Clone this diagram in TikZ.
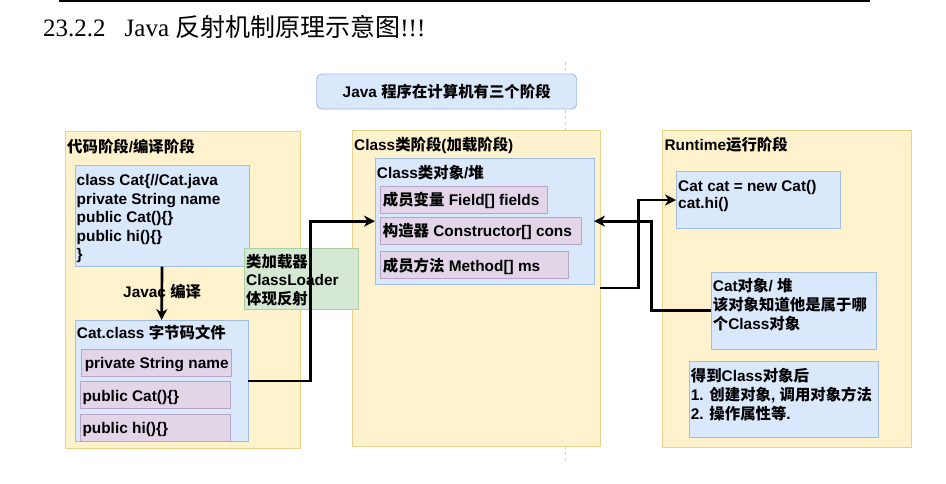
\documentclass[tikz,border=0pt]{standalone}
\usepackage{fontspec}
\setmainfont{Liberation Sans}
\newfontfamily\zhfont{Noto Sans CJK SC}
\newfontfamily\seriffont{Liberation Serif}
\newcommand\zh[1]{{\zhfont #1}}
\usetikzlibrary{arrows.meta}
\definecolor{panelfill}{HTML}{FFF2CC}
\definecolor{paneldraw}{HTML}{E8D28E}
\definecolor{bluefill}{HTML}{DAE8FC}
\definecolor{bluedraw}{HTML}{A2BCE2}
\definecolor{purpfill}{HTML}{E1D5E7}
\definecolor{purpdraw}{HTML}{B9A3C6}
\definecolor{grnfill}{HTML}{D5E8D4}
\definecolor{grndraw}{HTML}{A9D0A3}
\newcommand\bx[6]{\node[#1, anchor=north west, inner sep=0pt, outer sep=0pt, minimum width={#5-#3}, minimum height={#6-#4}] (#2) at (#3,#4) {};}
\begin{document}
\begin{tikzpicture}[x=1pt,y=-1pt,
  panel/.style={draw=paneldraw, fill=panelfill, line width=0.9pt},
  bluebox/.style={draw=bluedraw, fill=bluefill, line width=0.9pt},
  purpbox/.style={draw=purpdraw, fill=purpfill, line width=0.9pt},
  grnbox/.style={draw=grndraw, fill=grnfill, line width=0.9pt},
  topbox/.style={draw=bluedraw, fill=bluefill, line width=0.9pt, rounded corners=5pt},
  txt/.style={anchor=base west, inner sep=0pt, font=\bfseries\fontsize{15.4}{18}\selectfont},
  ctxt/.style={anchor=base, inner sep=0pt, font=\bfseries\fontsize{15.4}{18}\selectfont},
  arr/.style={line width=2.7pt, line join=miter, -{Stealth[length=11pt,width=11pt,inset=3.5pt]}}]
\useasboundingbox (0,0) rectangle (946,483);
\fill[white] (0,0) rectangle (946,483);
% header
\draw[line width=1.5pt] (59,1) -- (870,1);
\node[anchor=base west, inner sep=0pt, font=\seriffont\fontsize{25}{29}\selectfont] (head) at (43,36.5) {23.2.2\hspace{19pt}Java \zh{反射机制原理示意图}!!!};
% guide line
\draw[black!20, dashed, line width=0.6pt] (565,62) -- (565,462);
% top box
\bx{topbox}{tb}{316.7}{74}{576.7}{109}
\node[ctxt] (tbt) at (446.7,97) {Java \zh{程序在计算机有三个阶段}};
% panels
\bx{panel}{lp}{65}{131.7}{300.7}{448}
\bx{panel}{mp}{352.7}{130}{600}{446}
\bx{panel}{rp}{662.7}{130}{911.7}{447.7}
\node[txt] (lpt) at (67,152) {\zh{代码阶段}/\zh{编译阶段}};
\node[txt] (mpt) at (354,150.5) {Class\zh{类阶段}(\zh{加载阶段})};
\node[txt] (rpt) at (664.3,150.5) {Runtime\zh{运行阶段}};
% left panel
\bx{bluebox}{lb1}{75}{165.7}{249}{266.7}
\node[txt] (l1a) at (76.5,185.5) {class Cat\{//Cat.java};
\node[txt] (l1b) at (76.5,204) {private String name};
\node[txt] (l1c) at (76.5,222.5) {public Cat()\{\}};
\node[txt] (l1d) at (76.5,241) {public hi()\{\}};
\node[txt] (l1e) at (76.5,259.5) {\}};
\node[txt] (javac) at (123,297) {Javac \zh{编译}};
\bx{bluebox}{lb2}{75}{320}{248.3}{441.7}
\node[txt] (l2t) at (76.7,338.5) {Cat.class \zh{字节码文件}};
\bx{purpbox}{p1}{81.7}{349.3}{231.7}{376.7}
\node[ctxt] (p1t) at (156.7,368.5) {private String name};
\bx{purpbox}{p2}{80.7}{381}{230.7}{408.3}
\node[txt] (p2t) at (82.3,401.5) {public Cat()\{\}};
\bx{purpbox}{p3}{80.7}{414.3}{230.7}{441}
\node[txt] (p3t) at (82.3,433.8) {public hi()\{\}};
\draw[arr] (lb1.south) -- (lb2.north);
% class loader
\bx{grnbox}{gl}{244}{248.3}{358.3}{309.3}
\node[txt] (gla) at (246,267.2) {\zh{类加载器}};
\node[txt] (glb) at (246,285.7) {ClassLoader};
\node[txt] (glc) at (246,304.2) {\zh{体现反射}};
% middle panel
\bx{bluebox}{mb}{375}{158.3}{594}{284}
\node[txt] (mbt) at (376.7,178.8) {Class\zh{类对象}/\zh{堆}};
\bx{purpbox}{m1}{380.7}{186}{547.3}{213.3}
\node[txt] (m1t) at (382.7,205.2) {\zh{成员变量} Field[] fields};
\bx{purpbox}{m2}{380.7}{217.3}{581}{244.3}
\node[txt] (m2t) at (382.7,236.2) {\zh{构造器} Constructor[] cons};
\bx{purpbox}{m3}{380.7}{251}{568.3}{278.3}
\node[txt] (m3t) at (382.7,271.2) {\zh{成员方法} Method[] ms};
% right panel
\bx{bluebox}{r1}{676}{171.7}{840.7}{228.3}
\node[txt] (r1a) at (678,191.5) {Cat cat = new Cat()};
\node[txt] (r1b) at (678,208.2) {cat.hi()};
\bx{bluebox}{r2}{711}{272.3}{876.7}{349.3}
\node[txt] (r2a) at (712.7,291.5) {Cat\zh{对象}/ \zh{堆}};
\node[txt] (r2b) at (712.7,310.5) {\zh{该对象知道他是属于哪}};
\node[txt] (r2c) at (712.7,329) {\zh{个}Class\zh{对象}};
\bx{bluebox}{r3}{689.3}{361.3}{878.3}{437.7}
\node[txt] (r3a) at (690.7,381.5) {\zh{得到}Class\zh{对象后}};
\node[txt] (r3b) at (690.7,400.5) {1. \zh{创建对象}, \zh{调用对象方法}};
\node[txt] (r3c) at (690.7,419) {2. \zh{操作属性等}.};
% connectors
\draw[arr] (lb2.east) -- ++(62.4,0) |- (mb.west);
\draw[arr] (mp.east) -- ++(38.3,0) |- (r1.west);
\draw[arr] (r2.west) -- ++(-59.3,0) |- (mb.east);
\end{tikzpicture}
\end{document}
